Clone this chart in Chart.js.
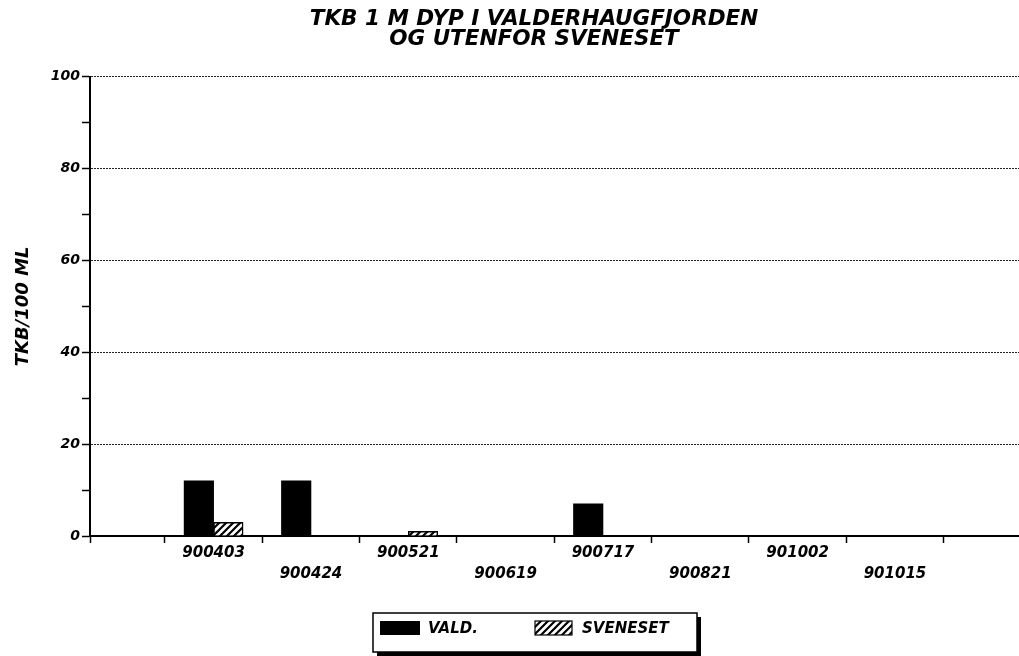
<!DOCTYPE html>
<html><head><meta charset="utf-8">
<script src="https://cdn.jsdelivr.net/npm/chart.js@4.4.0/dist/chart.umd.min.js"></script>
<style>html,body{margin:0;padding:0;background:#fff;overflow:hidden}
#wrap{position:relative;width:1068px;height:656px}</style>
</head><body><div id="wrap"><canvas id="c"></canvas></div>
<script>
const titleLines = ['TKB 1 M DYP I VALDERHAUGFJORDEN', 'OG UTENFOR SVENESET'];
const yAxisTitle = 'TKB/100 ML';
const categories = ['900403', '900424', '900521', '900619', '900717', '900821', '901002', '901015'];
const seriesNames = ['VALD.', 'SVENESET'];
const valdValues = [12, 12, 0, 0, 7, 0, 0, 0];
const svenesetValues = [3, 0, 1, 0, 0, 0, 0, 0];
const yTickLabels = [0, 20, 40, 60, 80, 100];

const FAMILY = "'DejaVu Sans', sans-serif";
const canvas = document.getElementById('c');
const mainCtx = canvas.getContext('2d');

function makeHatch() {
  const s = 7;
  const c = document.createElement('canvas');
  c.width = s; c.height = s;
  const g = c.getContext('2d');
  g.fillStyle = '#fff'; g.fillRect(0, 0, s, s);
  g.strokeStyle = '#000'; g.lineWidth = 2.2;
  g.beginPath();
  g.moveTo(-1, s + 1); g.lineTo(s + 1, -1);
  g.moveTo(-1, 1); g.lineTo(1, -1);
  g.moveTo(s - 1, s + 1); g.lineTo(s + 1, s - 1);
  g.stroke();
  return mainCtx.createPattern(c, 'repeat');
}
const hatch = makeHatch();

const legendBox = {
  id: 'legendBox',
  afterDraw(chart) {
    const ctx = chart.ctx;
    const L = 373, T = 613, W = 324, H = 39;
    ctx.save();
    ctx.fillStyle = '#000';
    ctx.fillRect(L + 4, T + 4, W, H);
    ctx.fillStyle = '#fff';
    ctx.fillRect(L, T, W, H);
    ctx.strokeStyle = '#000'; ctx.lineWidth = 1.5;
    ctx.strokeRect(L, T, W, H);
    const ds = chart.data.datasets;
    ctx.fillStyle = ds[0].backgroundColor;
    ctx.fillRect(380, 621, 40, 14);
    ctx.fillStyle = ds[1].backgroundColor;
    ctx.fillRect(535, 621, 37, 14);
    ctx.lineWidth = 1.2; ctx.strokeRect(535, 621, 37, 14);
    ctx.fillStyle = '#000';
    ctx.font = "italic bold 15px " + FAMILY;
    ctx.textBaseline = 'middle';
    ctx.textAlign = 'left';
    ctx.fillText(ds[0].label, 428, 629);
    ctx.fillText(ds[1].label, 582, 629);
    ctx.restore();
  }
};

new Chart(canvas, {
  type: 'bar',
  data: {
    datasets: [
      {
        label: seriesNames[0],
        data: categories.map((c, i) => ({ x: i + 1, y: valdValues[i] })),
        backgroundColor: '#000',
        borderWidth: 0,
        barThickness: 29.5
      },
      {
        label: seriesNames[1],
        data: categories.map((c, i) => ({ x: i + 1, y: svenesetValues[i] })),
        backgroundColor: hatch,
        borderColor: '#000',
        borderWidth: 1.5,
        borderSkipped: 'bottom',
        barThickness: 29.5
      }
    ]
  },
  options: {
    responsive: true,
    maintainAspectRatio: false,
    animation: false,
    layout: { padding: { left: 27, right: 27, top: 0, bottom: 60 } },
    plugins: {
      legend: { display: false },
      tooltip: { enabled: false },
      title: {
        display: true,
        text: titleLines,
        color: '#000',
        font: { family: FAMILY, size: 21.5, weight: 'bold', style: 'italic', lineHeight: 0.9 },
        padding: { top: 10, bottom: 28 }
      }
    },
    scales: {
      x: {
        type: 'linear',
        min: -0.27,
        max: 9.5,
        offset: false,
        afterBuildTicks(s) {
          const t = [s.min];
          for (let k = 0; k <= categories.length + 1; k++) t.push(k + 0.5);
          categories.forEach((c, i) => t.push(i + 1));
          t.sort((a, b) => a - b);
          s.ticks = t.map(v => ({ value: v }));
        },
        afterFit(s) { s.height = 60; },
        ticks: {
          autoSkip: false,
          maxRotation: 0,
          minRotation: 0,
          padding: 0,
          color: '#000',
          font: { family: FAMILY, size: 15, weight: 'bold', style: 'italic', lineHeight: 1.4 },
          callback(v) {
            const i = Math.round(v) - 1;
            if (Number.isInteger(v) && i >= 0 && i < categories.length) {
              return i % 2 === 0 ? categories[i] : ['', categories[i]];
            }
            return '';
          }
        },
        grid: {
          offset: false,
          drawOnChartArea: false,
          drawTicks: true,
          tickLength: 7,
          tickWidth: 1.5,
          color: 'rgba(0,0,0,0)',
          tickColor: ctx => (ctx.tick && !Number.isInteger(ctx.tick.value)) ? '#000' : 'rgba(0,0,0,0)'
        },
        border: { display: true, color: '#000', width: 2 }
      },
      y: {
        min: 0,
        max: 100,
        afterFit(s) { s.width = 63; },
        ticks: {
          stepSize: 10,
          padding: 2,
          color: '#000',
          font: { family: FAMILY, size: 14, weight: 'bold', style: 'italic' },
          callback: v => yTickLabels.includes(v) ? String(v) : ''
        },
        grid: {
          drawTicks: true,
          tickLength: 8,
          tickWidth: 1.5,
          lineWidth: 1,
          color: ctx => (ctx.tick && ctx.tick.value > 0 && ctx.tick.value % 20 === 0) ? '#222' : 'rgba(0,0,0,0)',
          tickColor: '#000'
        },
        border: { display: true, color: '#000', width: 2, dash: [2, 1] },
        title: {
          display: true,
          text: yAxisTitle,
          color: '#000',
          font: { family: FAMILY, size: 18, weight: 'bold', style: 'italic' },
          padding: { top: -14.8, bottom: 0 }
        }
      }
    }
  },
  plugins: [legendBox]
});
</script>
</body></html>
